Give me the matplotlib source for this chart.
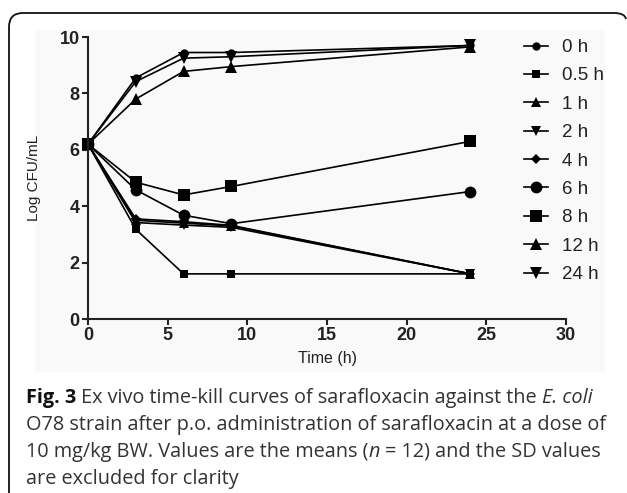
import matplotlib
matplotlib.use("Agg")
import matplotlib.pyplot as plt
from matplotlib.path import Path
from matplotlib.patches import PathPatch, Rectangle

# Data
time_h = [0, 3, 6, 9, 24]
labels = ["0 h", "0.5 h", "1 h", "2 h", "4 h", "6 h", "8 h", "12 h", "24 h"]
log_cfu = {
    "0 h":   [6.2, 8.55, 9.45, 9.45, 9.70],
    "0.5 h": [6.2, 3.18, 1.60, 1.60, 1.60],
    "1 h":   [6.2, 3.50, 3.40, 3.30, 1.60],
    "2 h":   [6.2, 3.42, 3.33, 3.25, 1.60],
    "4 h":   [6.2, 3.55, 3.45, 3.32, 1.60],
    "6 h":   [6.2, 4.58, 3.68, 3.38, 4.52],
    "8 h":   [6.2, 4.85, 4.40, 4.70, 6.30],
    "12 h":  [6.2, 7.80, 8.78, 8.95, 9.65],
    "24 h":  [6.2, 8.42, 9.25, 9.30, 9.70],
}
markers = ["o", "s", "^", "v", "D", "o", "s", "^", "v"]
msizes = [6, 6, 6.5, 6.5, 5.5, 8.5, 8, 9, 9]

W, H = 627, 493
fig = plt.figure(figsize=(W / 100, H / 100), dpi=100)

# light background behind the chart and the rounded border
fig.patches.append(Rectangle((35 / W, 1 - 372 / H), 570 / W, 342 / H,
                             transform=fig.transFigure, facecolor="#f9f9f9",
                             edgecolor="none", zorder=-2))
pts = [(9, 493), (9, 27), (9, 13), (23, 13), (614, 13), (625, 13), (626, 19)]
codes = [Path.MOVETO, Path.LINETO, Path.CURVE3, Path.CURVE3, Path.LINETO,
         Path.CURVE3, Path.CURVE3]
border = Path([(x / W, 1 - y / H) for x, y in pts], codes)
fig.patches.append(PathPatch(border, transform=fig.transFigure, facecolor="none",
                             edgecolor="#111111", linewidth=1.3, zorder=-1))

ax = fig.add_axes([88 / W, 1 - 319 / H, 478 / W, 282 / H])
ax.set_facecolor("none")
ax.set_zorder(2)

for lab, m, ms in zip(labels, markers, msizes):
    ax.plot(time_h, log_cfu[lab], color="black", linewidth=1.2, marker=m,
            markersize=ms, markeredgewidth=0, label=lab, clip_on=False)

ax.set_xlim(0, 30)
ax.set_ylim(0, 10)
ax.set_xticks(range(0, 31, 5))
ax.set_yticks(range(0, 11, 2))
for s in ["top", "right"]:
    ax.spines[s].set_visible(False)
for s in ["left", "bottom"]:
    ax.spines[s].set_linewidth(1.5)
    ax.spines[s].set_color("#222222")
ax.tick_params(width=1.5, length=4, color="#222222", labelcolor="#222222", pad=2)
for t in ax.get_xticklabels() + ax.get_yticklabels():
    t.set_fontfamily("Liberation Sans")
    t.set_fontweight("bold")
    t.set_fontsize(13)

ax.set_xlabel("Time (h)", fontfamily="Liberation Sans", fontsize=11.5,
              color="#222222", labelpad=5)
ax.set_ylabel("Log CFU/mL", fontfamily="Liberation Sans", fontsize=11,
              color="#222222", labelpad=13)

leg = ax.legend(loc="upper left", bbox_to_anchor=(524 / W, 1 - 39 / H),
                bbox_transform=fig.transFigure, frameon=False,
                prop={"family": "Liberation Sans", "size": 13.5},
                handlelength=1.3, handletextpad=0.75, labelspacing=0.6,
                borderpad=0, borderaxespad=0)
for t in leg.get_texts():
    t.set_color("#222222")

# caption with mixed bold / italic pieces
renderer = fig.canvas.get_renderer()
cap_font = dict(family="Open Sans", size=14.3, color="#333333")


def space_width(**kw):
    a = fig.text(0, 0, "a a", **kw)
    b = fig.text(0, 0, "aa", **kw)
    w = a.get_window_extent(renderer).width - b.get_window_extent(renderer).width
    a.remove()
    b.remove()
    return w


def put_line(pieces, x0, y):
    x = x0
    for txt, style in pieces:
        kw = dict(cap_font)
        if style == "b":
            kw["weight"] = "bold"
            kw["color"] = "#111111"
        elif style == "i":
            kw["style"] = "italic"
        if txt.startswith(" "):
            x += space_width(**kw)
        t = fig.text(x / W, 1 - y / H, txt.strip(), va="baseline", ha="left", **kw)
        x += t.get_window_extent(renderer).width
        if txt.endswith(" "):
            x += space_width(**kw)


caption = [
    [("Fig. 3", "b"), (" Ex vivo time-kill curves of sarafloxacin against the ", "n"),
     ("E. coli", "i")],
    [("O78 strain after p.o. administration of sarafloxacin at a dose of", "n")],
    [("10 mg/kg BW. Values are the means (", "n"), ("n", "i"),
     (" = 12) and the SD values", "n")],
    [("are excluded for clarity", "n")],
]
for k, line in enumerate(caption):
    put_line(line, 26, 403 + 27 * k)

fig.savefig("out.png", dpi=100)
